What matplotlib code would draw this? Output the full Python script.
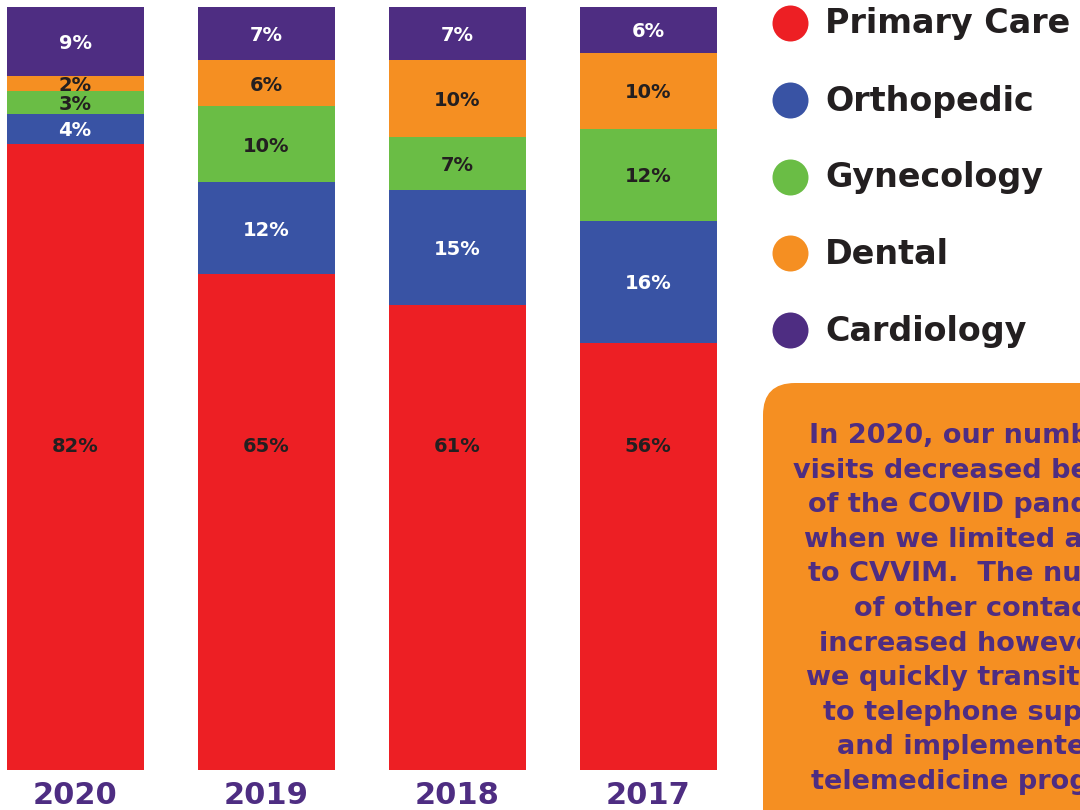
import matplotlib.pyplot as plt
from matplotlib.patches import FancyBboxPatch

years = ["2020", "2019", "2018", "2017"]
categories = ["Primary Care", "Orthopedic", "Gynecology", "Dental", "Cardiology"]
primary = [82, 65, 61, 56]
ortho = [4, 12, 15, 16]
gyn = [3, 10, 7, 12]
dental = [2, 6, 10, 10]
cardio = [9, 7, 7, 6]

colors = ["#ed1f24", "#3953a4", "#6abd45", "#f58f22", "#4e2d82"]
text_colors = ["#231f20", "white", "#231f20", "#231f20", "white"]
purple = "#4e2d82"
FONT = "DejaVu Sans"

note = ("In 2020, our number of\nvisits decreased because\nof the COVID pandemic\n"
        "when we limited access\nto CVVIM.  The number\nof other contacts\n"
        "increased however as\nwe quickly transitioned\nto telephone support\n"
        "and implemented a\ntelemedicine program.")

W, H = 1080, 810
fig = plt.figure(figsize=(10.8, 8.1), dpi=100)

# bars axes: pixel x 0..760, y 7..770
ax = fig.add_axes([0, (H - 770) / H, 760 / W, 763 / H])
ax.set_xlim(-75 / 191, (760 - 75) / 191)
ax.set_ylim(0, 100)
series = [primary, ortho, gyn, dental, cardio]
x = range(len(years))
bottom = [0] * len(years)
for k, vals in enumerate(series):
    ax.bar(x, vals, width=137 / 191, bottom=bottom, color=colors[k], linewidth=0)
    for i, v in enumerate(vals):
        y = bottom[i] + v / 2 - 0.25 if k > 0 else 42.46
        ax.text(i, y, f"{v}%", ha="center", va="center", color=text_colors[k],
                fontsize=14, fontweight="bold", family=FONT)
    bottom = [b + v for b, v in zip(bottom, vals)]

ax.set_xticks(list(x))
ax.set_xticklabels(years, fontsize=22, fontweight="bold", color=purple, family=FONT)
ax.tick_params(axis="x", length=0, pad=8)
ax.set_yticks([])
for s in ax.spines.values():
    s.set_visible(False)

# overlay for legend and note box, pixel coordinates
ov = fig.add_axes([0, 0, 1, 1], zorder=3)
ov.set_xlim(0, W)
ov.set_ylim(H, 0)
ov.axis("off")
ov.patch.set_alpha(0)

legend_y = [23, 100, 177, 253, 330]
for c, lab, ly in zip(colors, categories, legend_y):
    ov.scatter([790], [ly], s=(36 * 0.72) ** 2, color=c, linewidth=0)
    ov.text(825, ly + 1, lab, ha="left", va="center", fontsize=24,
            fontweight="bold", color="#231f20", family=FONT)

box = FancyBboxPatch((763, 383), 500, 500, boxstyle="round,pad=0,rounding_size=32",
                     facecolor="#f58f22", edgecolor="none")
ov.add_patch(box)
# the note runs past the right edge, as in the original layout
ov.text(985, 609, note, ha="center", va="center", fontsize=19.5, fontweight="bold",
        color=purple, family=FONT, linespacing=1.43)

fig.savefig("out.png", dpi=100)
